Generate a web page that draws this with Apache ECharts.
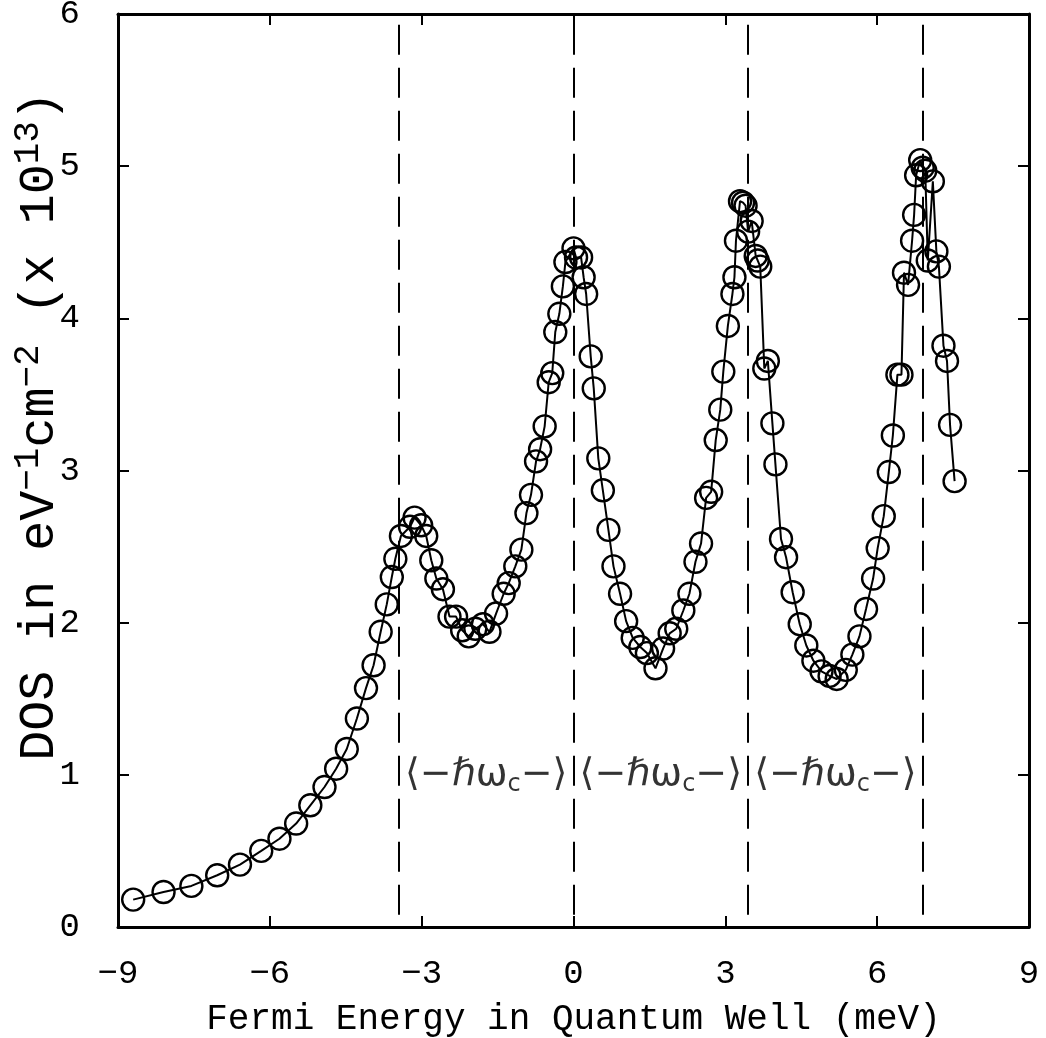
<!DOCTYPE html>
<html><head><meta charset="utf-8">
<script src="https://cdn.jsdelivr.net/npm/echarts@6/dist/echarts.min.js"></script>
<style>html,body{margin:0;padding:0;background:#fff}#c{width:1046px;height:1038px}</style>
</head><body><div id="c"></div>
<script>
// Fermi energy (meV)
const energy = [
 -8.70,-8.10,-7.55,-7.04,-6.59,-6.17,-5.81,-5.48,-5.20,-4.92,-4.69,-4.48,-4.28,-4.10,-3.95,-3.81,-3.69,-3.59,-3.52,-3.41,
 -3.23,-3.14,-3.01,-2.91,-2.81,-2.71,-2.58,-2.45,-2.32,-2.20,-2.07,-1.94,-1.79,-1.66,-1.53,-1.38,-1.28,-1.15,-1.03,-0.93,
 -0.84,-0.74,-0.66,-0.57,-0.49,-0.42,-0.36,-0.28,-0.21,-0.16,0.00,0.05,0.15,0.20,0.25,0.34,0.40,0.49,0.58,0.69,
 0.79,0.92,1.04,1.17,1.32,1.45,1.62,1.77,1.90,2.03,2.17,2.29,2.41,2.52,2.62,2.72,2.81,2.90,2.96,3.05,
 3.14,3.18,3.21,3.29,3.35,3.40,3.45,3.52,3.60,3.64,3.69,3.77,3.84,3.93,3.99,4.10,4.20,4.33,4.47,4.60,
 4.74,4.90,5.06,5.20,5.38,5.51,5.65,5.78,5.92,6.01,6.13,6.23,6.31,6.40,6.48,6.53,6.61,6.69,6.73,6.77,
 6.85,6.90,6.95,7.00,7.10,7.17,7.22,7.31,7.38,7.44,7.53
];
// DOS (x 10^13 eV^-1 cm^-2)
const dos = [
 0.18,0.23,0.27,0.34,0.41,0.50,0.58,0.68,0.80,0.92,1.04,1.17,1.37,1.57,1.72,1.94,2.12,2.30,2.42,2.57,
 2.63,2.69,2.64,2.57,2.41,2.29,2.22,2.04,2.04,1.95,1.91,1.96,1.99,1.94,2.06,2.19,2.26,2.37,2.48,2.72,
 2.84,3.06,3.14,3.29,3.58,3.64,3.91,4.03,4.21,4.37,4.46,4.40,4.40,4.27,4.16,3.75,3.54,3.08,2.87,2.61,
 2.37,2.19,2.01,1.90,1.84,1.80,1.70,1.83,1.93,1.96,2.08,2.19,2.40,2.52,2.82,2.86,3.20,3.40,3.65,3.95,
 4.16,4.27,4.51,4.77,4.76,4.74,4.57,4.64,4.41,4.38,4.34,3.67,3.72,3.31,3.04,2.55,2.43,2.20,1.99,1.85,
 1.75,1.68,1.65,1.63,1.69,1.79,1.91,2.09,2.29,2.49,2.70,2.99,3.23,3.63,3.63,4.30,4.22,4.51,4.68,4.94,
 5.04,4.99,4.97,4.38,4.90,4.44,4.34,3.82,3.72,3.30,2.93
];
// Landau level positions (dashed lines), meV
const landauLevels = [-3.45, 0, 3.45, 6.9];
const dashTop = 5.93;
// hbar-omega_c spacing labels
const spacingX = [-1.725, 1.725, 5.175];
const spacingY = 1.0;
const xTickLabels = [-9, -6, -3, 0, 3, 6, 9];
const yTickLabels = [0, 1, 2, 3, 4, 5, 6];

const FONT = "'Liberation Mono', 'DejaVu Sans Mono', monospace";
const chart = echarts.init(document.getElementById('c'), null, {renderer: 'canvas'});
const fmt = v => (v < 0 ? '\u2212' + (-v) : String(v));
const axisBase = {
  type: 'value',
  axisLine: {show: true, onZero: false, lineStyle: {color: '#000', width: 3}},
  axisTick: {show: true, inside: true, length: 11, lineStyle: {color: '#000', width: 2}},
  splitLine: {show: false}
};
chart.setOption({
  backgroundColor: '#fff',
  animation: false,
  grid: {left: 118, right: 17, top: 14, bottom: 111, outerBoundsMode: 'none'},
  graphic: [{
    type: 'text', x: 40, y: 426, rotation: Math.PI / 2, silent: true,
    style: {
      text: '{a|DOS in eV}{s|\u22121}{a|cm}{s|\u22122}{a| (x 10}{s|13}{a|)}',
      align: 'center', verticalAlign: 'middle', fill: '#000',
      font: "50px 'Liberation Mono', monospace",
      rich: {
        a: {fontSize: 50, fontFamily: FONT, fill: '#000', lineHeight: 60},
        s: {fontSize: 36, fontFamily: FONT, fill: '#000', lineHeight: 36, verticalAlign: 'top'}
      }
    }
  }],
  xAxis: [
    Object.assign({}, axisBase, {
      position: 'bottom', min: xTickLabels[0], max: xTickLabels[xTickLabels.length - 1], interval: 3,
      axisLabel: {margin: 30, fontSize: 34, color: '#000', fontFamily: FONT, formatter: fmt},
      name: 'Fermi Energy in Quantum Well (meV)', nameLocation: 'middle', nameGap: 74,
      nameTextStyle: {fontSize: 36, color: '#000', fontFamily: FONT}
    }),
    Object.assign({}, axisBase, {
      position: 'top', min: xTickLabels[0], max: xTickLabels[xTickLabels.length - 1], interval: 3,
      axisLabel: {show: false}
    })
  ],
  yAxis: [
    Object.assign({}, axisBase, {
      position: 'left', min: yTickLabels[0], max: yTickLabels[yTickLabels.length - 1], interval: 1,
      axisLabel: {margin: 38, fontSize: 34, color: '#000', fontFamily: FONT, formatter: fmt}
    }),
    Object.assign({}, axisBase, {
      position: 'right', min: yTickLabels[0], max: yTickLabels[yTickLabels.length - 1], interval: 1,
      axisLabel: {show: false}
    })
  ],
  series: [
    {
      type: 'line',
      data: energy.map((e, i) => [e, dos[i]]),
      showSymbol: true, showAllSymbol: true,
      symbol: 'circle', symbolSize: 22,
      itemStyle: {color: 'rgba(0,0,0,0)', borderColor: '#000', borderWidth: 2.4},
      lineStyle: {color: '#000', width: 2},
      z: 3,
      markLine: {
        silent: true, symbol: 'none', label: {show: false},
        lineStyle: {color: '#000', width: 2, type: [30, 13]},
        data: landauLevels.map(x => [{coord: [x, dashTop]}, {coord: [x, 0]}])
      }
    },
    {
      type: 'scatter',
      data: spacingX.map(x => [x, spacingY]),
      symbolSize: 0, silent: true, z: 4,
      label: {
        show: true, position: 'inside', color: '#000',
        formatter: '{t|\u27e8\u2212\u210f\u03c9}{c|c}{t|\u2212\u27e9}',
        rich: {
          t: {fontSize: 38, fontFamily: "'DejaVu Sans', sans-serif", color: '#000', lineHeight: 44},
          c: {fontSize: 24, fontFamily: "'DejaVu Sans', sans-serif", color: '#000', lineHeight: 24, verticalAlign: 'bottom'}
        }
      }
    }
  ]
});
</script>
</body></html>
